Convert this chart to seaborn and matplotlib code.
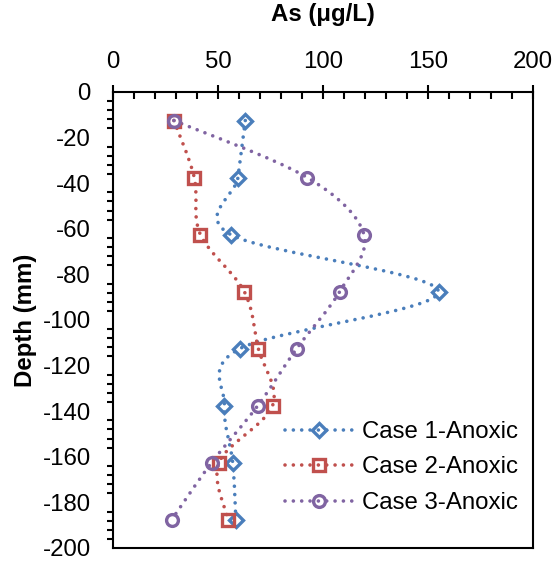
import numpy as np
import pandas as pd
import matplotlib
matplotlib.use("Agg")
import matplotlib.pyplot as plt
import matplotlib.path as mpath
import matplotlib.patches as mpatches
from matplotlib.lines import Line2D
from matplotlib.ticker import MultipleLocator
import seaborn as sns

# ---- data ----
depth = [-12.5, -37.5, -62.5, -87.5, -112.5, -137.5, -162.5, -187.5]
case1 = [63, 59.5, 56, 155, 60.5, 53, 57, 58.5]
case2 = [29, 38.7, 41.6, 62.5, 69.2, 76, 50.5, 54.8]
case3 = [29, 92.5, 119.5, 108, 87.5, 69, 47, 28]
labels = ["Case 1-Anoxic", "Case 2-Anoxic", "Case 3-Anoxic"]
colors = ["#4A7EBB", "#C0504D", "#8064A2"]
markers = ["D", "s", "o"]
msizes = [7, 8, 8.5]
xticks = [0, 50, 100, 150, 200]
yticks = list(range(0, -201, -20))

sns.set_style("white")
plt.rcParams["font.family"] = ["Liberation Sans", "DejaVu Sans"]
plt.rcParams["text.color"] = "black"
plt.rcParams["axes.labelcolor"] = "black"
plt.rcParams["xtick.color"] = "black"
plt.rcParams["ytick.color"] = "black"
plt.rcParams["axes.unicode_minus"] = False

fig = plt.figure(figsize=(5.56, 5.61), dpi=100)
ax = fig.add_axes([113 / 556, 1 - 548 / 561, 420 / 556, 456 / 561])

lw = 2.6
dotted = (0, (0.01, 2.3))


def smooth_path(xs, ys, t=1 / 6):
    pts = np.column_stack([xs, ys]).astype(float)
    n = len(pts)
    verts = [pts[0]]
    codes = [mpath.Path.MOVETO]
    for i in range(n - 1):
        p0 = pts[i - 1] if i > 0 else pts[i]
        p1 = pts[i]
        p2 = pts[i + 1]
        p3 = pts[i + 2] if i + 2 < n else pts[i + 1]
        c1 = p1 + (p2 - p0) * t
        c2 = p2 - (p3 - p1) * t
        verts += [c1, c2, p2]
        codes += [mpath.Path.CURVE4] * 3
    return mpath.Path(verts, codes)


series = [case1, case2, case3]
for vals, col, mk, ms in zip(series, colors, markers, msizes):
    patch = mpatches.PathPatch(smooth_path(vals, depth), facecolor="none",
                               edgecolor=col, lw=lw, linestyle=dotted,
                               capstyle="round", zorder=2)
    ax.add_patch(patch)
    df = pd.DataFrame({"As": vals, "Depth": depth})
    sns.lineplot(data=df, x="As", y="Depth", sort=False, estimator=None,
                 ax=ax, color=col, marker=mk, linestyle="none", ms=ms,
                 mfc="none", mec=col, mew=2.4, zorder=3)

ax.set_xlim(0, 200)
ax.set_ylim(-200, 0)
ax.xaxis.tick_top()
ax.xaxis.set_label_position("top")
ax.set_xticks(xticks)
ax.set_yticks(yticks)
ax.xaxis.set_minor_locator(MultipleLocator(10))
ax.yaxis.set_minor_locator(MultipleLocator(4))
ax.tick_params(axis="both", which="major", direction="inout", length=10,
               width=1.5, color="black", labelsize=17.3, labelcolor="black")
ax.tick_params(axis="x", which="major", pad=9)
ax.tick_params(axis="y", which="major", pad=11)
ax.tick_params(axis="x", which="minor", direction="in", length=5, width=1.5,
               top=True, bottom=False)
ax.tick_params(axis="y", which="minor", direction="out", length=4, width=1.5,
               left=True)
ax.tick_params(axis="x", which="both", top=True, bottom=False)
for s in ax.spines.values():
    s.set_color("black")
    s.set_linewidth(1.5)

ax.set_xlabel("As (μg/L)", fontsize=17.3, fontweight="bold", labelpad=21,
              color="black")
ax.set_ylabel("Depth (mm)", fontsize=17.3, fontweight="bold", labelpad=4,
              color="black")

handles = [Line2D([], [], color=c, lw=lw, linestyle=dotted,
                  dash_capstyle="round", marker=m, ms=ms, mfc="none",
                  mec=c, mew=2.4)
           for c, m, ms in zip(colors, markers, msizes)]
leg = ax.legend(handles, labels, loc="upper left", frameon=False,
                fontsize=17.3, bbox_to_anchor=(285 / 556, 1 - 421 / 561),
                bbox_transform=fig.transFigure, borderpad=0, borderaxespad=0,
                handlelength=2.8, handletextpad=0.4, labelspacing=0.56,
                markerscale=1.0)
for t in leg.get_texts():
    t.set_color("black")

fig.savefig("out.png", dpi=100)
